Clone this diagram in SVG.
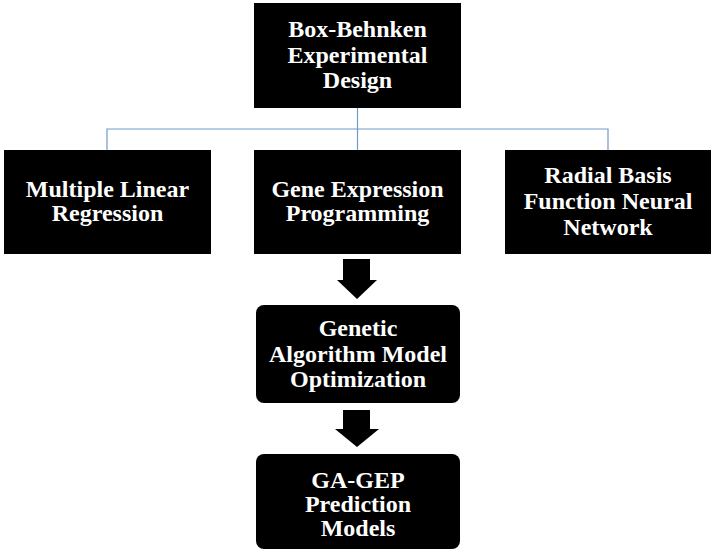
<svg xmlns="http://www.w3.org/2000/svg" width="715" height="553" viewBox="0 0 715 553">
<style>
.box{fill:#000}
.lbl{font-family:"Liberation Serif","Times New Roman",serif;font-weight:bold;font-size:24px;fill:#fff;text-anchor:middle}
.conn{fill:none;stroke:#6f9bc8;stroke-width:1.2}
.arr{fill:#000}
</style>
<rect width="715" height="553" fill="#fff"/>
<g id="connectors">
<path class="conn" d="M357.5,108 V150 M107,150 V129 H608 V150"/>
<polygon class="arr" points="343,259 370,259 370,280 377,280 357,299 337,280 343,280"/>
<polygon class="arr" points="343,410 370,410 370,429 379,429 357,447 335,429 343,429"/>
</g>
<g id="bbd">
<rect class="box" x="254" y="3" width="207" height="105"/>
<text class="lbl" x="357.5" y="37">Box-Behnken</text>
<text class="lbl" x="357.5" y="63">Experimental</text>
<text class="lbl" x="357.5" y="88">Design</text>
</g>
<g id="mlr">
<rect class="box" x="4" y="150" width="207" height="104"/>
<text class="lbl" x="107.5" y="197">Multiple Linear</text>
<text class="lbl" x="107.5" y="221">Regression</text>
</g>
<g id="gep">
<rect class="box" x="254" y="150" width="207" height="104"/>
<text class="lbl" x="357.5" y="197">Gene Expression</text>
<text class="lbl" x="357.5" y="221">Programming</text>
</g>
<g id="rbf">
<rect class="box" x="505" y="150" width="206" height="104"/>
<text class="lbl" x="608" y="183">Radial Basis</text>
<text class="lbl" x="608" y="209">Function Neural</text>
<text class="lbl" x="608" y="235">Network</text>
</g>
<g id="ga">
<rect class="box" x="256" y="305" width="204" height="98" rx="8"/>
<text class="lbl" x="358" y="336">Genetic</text>
<text class="lbl" x="358" y="362">Algorithm Model</text>
<text class="lbl" x="358" y="387">Optimization</text>
</g>
<g id="gagep">
<rect class="box" x="256" y="454" width="204" height="95" rx="8"/>
<text class="lbl" x="358" y="488">GA-GEP</text>
<text class="lbl" x="358" y="512">Prediction</text>
<text class="lbl" x="358" y="536">Models</text>
</g>
</svg>
